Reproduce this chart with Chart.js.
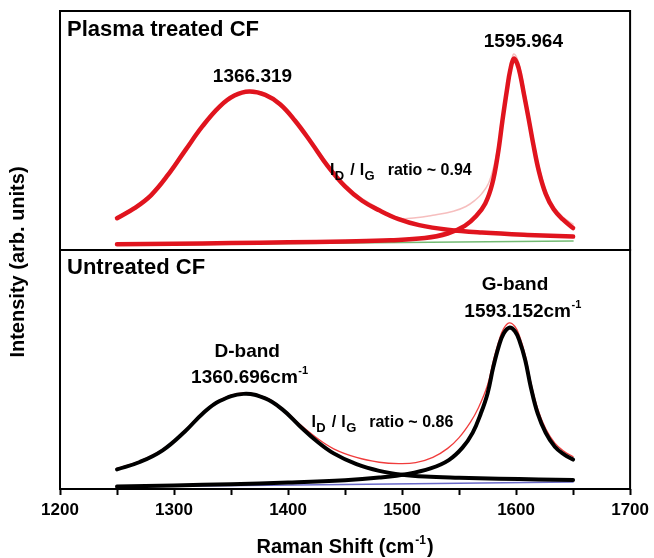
<!DOCTYPE html>
<html>
<head>
<meta charset="utf-8">
<script src="https://cdn.jsdelivr.net/npm/chart.js@4.4.1/dist/chart.umd.min.js"></script>
<style>
  html, body { margin: 0; padding: 0; background: #fff; }
  #wrap { width: 654px; height: 558px; }
</style>
</head>
<body>
<div id="wrap"><canvas id="raman" width="654" height="558"></canvas></div>
<script>
// Raman shift (cm-1) and intensity (arb. units, 0-100 in each panel)

// Plasma treated CF - D band component
const plasmaDX = [1250, 1265, 1280, 1295, 1310, 1325, 1340, 1353, 1366, 1380, 1393, 1406, 1420, 1435, 1450, 1465, 1480, 1497, 1515, 1540, 1570, 1610, 1650];
const plasmaDY = [13.3, 17.4, 23.0, 31.6, 41.8, 51.8, 60.0, 64.6, 66.3, 64.9, 61.0, 54.2, 45.2, 35.0, 26.6, 20.6, 16.6, 12.9, 10.4, 8.5, 7.3, 6.3, 5.6];
// Plasma treated CF - G band component
const plasmaGX = [1250, 1300, 1350, 1400, 1450, 1490, 1520, 1540, 1555, 1565, 1573, 1579, 1584, 1588, 1592, 1595, 1598, 1601, 1604, 1607, 1611, 1615, 1620, 1626, 1633, 1641, 1650];
const plasmaGY = [2.4, 2.6, 2.9, 3.2, 3.6, 4.1, 5.0, 6.9, 10.1, 14.2, 19.5, 27.5, 40, 54, 67, 75.5, 80, 78, 72.5, 65, 55, 44.5, 33, 23.5, 17, 12.8, 9.2];
// Plasma treated CF - cumulative fit (thin)
const plasmaSumX = [1250, 1280, 1310, 1340, 1366, 1393, 1420, 1450, 1476, 1497, 1512, 1527, 1545, 1556, 1564, 1570, 1576, 1581, 1585, 1589, 1593, 1596, 1598, 1601, 1604, 1607, 1611, 1615, 1620, 1626, 1633, 1641, 1650];
const plasmaSumY = [13.7, 23.4, 42.2, 60.4, 66.7, 61.4, 45.6, 27.1, 18.3, 13.4, 13.5, 14.5, 16.2, 18.2, 20.8, 23.6, 28, 36, 45.5, 58, 71, 79, 82, 80, 75, 67.5, 57, 46.5, 35, 25, 18.2, 13.8, 10.8];
// Plasma treated CF - baseline
const plasmaBaseX = [1250, 1650];
const plasmaBaseY = [2.0, 3.8];

// Untreated CF - D band component
const untreatedDX = [1250, 1270, 1290, 1310, 1325, 1340, 1361, 1380, 1395, 1410, 1425, 1440, 1460, 1480, 1500, 1520, 1550, 1585, 1620, 1650];
const untreatedDY = [8.2, 11.3, 16.2, 24.3, 31.5, 36.8, 39.8, 37.9, 33.3, 26.5, 20.1, 14.9, 10.4, 7.6, 6.0, 5.2, 4.7, 4.3, 4.0, 3.8];
// Untreated CF - G band component
const untreatedGX = [1250, 1300, 1350, 1400, 1450, 1480, 1505, 1525, 1541, 1553, 1562, 1569, 1575, 1580, 1585, 1589, 1594, 1599, 1603, 1608, 1613, 1619, 1626, 1634, 1642, 1650];
const untreatedGY = [1.0, 1.5, 2.0, 2.7, 3.7, 4.8, 6.3, 8.6, 12.1, 17.3, 23.6, 31.5, 40, 51, 60, 65, 67.5, 66, 62, 54, 42.5, 31.5, 23.5, 17.7, 14.5, 12.3];
// Untreated CF - cumulative fit (thin)
const untreatedSumX = [1250, 1270, 1290, 1310, 1325, 1340, 1361, 1380, 1395, 1410, 1425, 1440, 1460, 1480, 1497, 1512, 1527, 1540, 1550, 1560, 1567, 1575, 1580, 1585, 1589, 1594, 1599, 1603, 1608, 1613, 1619, 1626, 1634, 1642, 1650];
const untreatedSumY = [8.6, 11.7, 16.6, 24.7, 31.9, 37.2, 40.2, 38.3, 33.8, 27.2, 21.4, 16.8, 13.2, 11.2, 10.6, 11.0, 13.2, 17, 21.5, 28, 34, 43.5, 53.5, 62, 67, 69.5, 68, 64, 56, 44.5, 33.5, 25.2, 19.2, 15.8, 13.5];
// Untreated CF - baseline
const untreatedBaseX = [1250, 1650];
const untreatedBaseY = [0.9, 2.9];

// x axis
const xMin = 1200;
const xMax = 1700;
const xTickLabels = ['1200', '1300', '1400', '1500', '1600', '1700'];

const FONT = "'Liberation Sans', Arial, Helvetica, sans-serif";
Chart.defaults.font.family = FONT;
Chart.defaults.color = '#000';

function pts(xs, ys) {
  return xs.map((x, i) => ({ x: x, y: ys[i] }));
}

function curve(xs, ys, axis, color, width) {
  return {
    data: pts(xs, ys),
    yAxisID: axis,
    borderColor: color,
    borderWidth: width,
    pointRadius: 0,
    fill: false,
    tension: 0.4,
    borderCapStyle: 'round',
    borderJoinStyle: 'round'
  };
}

function ratioParts(val) {
  return [['I', 16, 0], ['D', 13, 5, 0.5], ['/', 16, 0, 6], ['I', 16, 0, 5], ['G', 13, 5, 0.5], ['ratio ~ ' + val, 16, 0, 13]];
}

// text placed on the panels: x in cm-1, y in panel units (baseline)
const notes = [
  { axis: 'yTop', x: 1368.8, y: 70.4, align: 'center', parts: [['1366.319', 19, 0]] },
  { axis: 'yTop', x: 1606.4, y: 85.1, align: 'center', parts: [['1595.964', 19, 0]] },
  { axis: 'yTop', x: 1436.7, y: 31.4, align: 'left', parts: ratioParts('0.94') },
  { axis: 'yBot', x: 1599.1, y: 83.3, align: 'center', parts: [['G-band', 19, 0]] },
  { axis: 'yBot', x: 1554.6, y: 72.1, align: 'left', parts: [['1593.152cm', 19, 0], ['-1', 11, -9, 0.5]] },
  { axis: 'yBot', x: 1364.2, y: 55.4, align: 'center', parts: [['D-band', 19, 0]] },
  { axis: 'yBot', x: 1315.0, y: 44.2, align: 'left', parts: [['1360.696cm', 19, 0], ['-1', 11, -9, 0.5]] },
  { axis: 'yBot', x: 1420.5, y: 26.1, align: 'left', parts: ratioParts('0.86') }
];

function drawParts(ctx, parts, x, y, align) {
  let total = 0;
  const widths = parts.map(p => {
    ctx.font = 'bold ' + p[1] + 'px ' + FONT;
    const w = ctx.measureText(p[0]).width;
    total += w + (p[3] || 0);
    return w;
  });
  let cx = align === 'center' ? x - total / 2 : x;
  parts.forEach((p, i) => {
    cx += p[3] || 0;
    ctx.font = 'bold ' + p[1] + 'px ' + FONT;
    ctx.fillText(p[0], cx, y + p[2]);
    cx += widths[i];
  });
}

const panelPlugin = {
  id: 'panels',
  afterDatasetsDraw(chart) {
    const ctx = chart.ctx;
    const area = chart.chartArea;
    const top = chart.scales.yTop;
    const bot = chart.scales.yBot;
    const x = chart.scales.x;
    ctx.save();
    // panel frames
    ctx.strokeStyle = '#000';
    ctx.lineWidth = 2;
    ctx.strokeRect(area.left, top.top, area.right - area.left, top.bottom - top.top);
    ctx.strokeRect(area.left, bot.top, area.right - area.left, bot.bottom - bot.top);

    ctx.fillStyle = '#000';
    ctx.textAlign = 'left';
    ctx.textBaseline = 'alphabetic';
    ctx.font = 'bold 22px ' + FONT;
    ctx.fillText('Plasma treated CF', area.left + 7, top.top + 25);
    ctx.fillText('Untreated CF', area.left + 7, bot.top + 24);

    notes.forEach(n => {
      const s = chart.scales[n.axis];
      drawParts(ctx, n.parts, x.getPixelForValue(n.x), s.getPixelForValue(n.y), n.align);
    });

    // axis titles
    drawParts(ctx, [['Raman Shift (cm', 20, 0], ['-1', 12, -9, 1], [')', 20, 0, 1]],
      (area.left + area.right) / 2, 552.5, 'center');
    ctx.save();
    ctx.translate(24, (area.top + area.bottom) / 2 + 12);
    ctx.rotate(-Math.PI / 2);
    drawParts(ctx, [['Intensity (arb. units)', 20, 0]], 0, 0, 'center');
    ctx.restore();
    ctx.restore();
  }
};

new Chart(document.getElementById('raman'), {
  type: 'line',
  data: {
    datasets: [
      curve(plasmaDX, plasmaDY, 'yTop', '#e0141e', 4.5),
      curve(plasmaGX, plasmaGY, 'yTop', '#e0141e', 4.5),
      curve(plasmaSumX, plasmaSumY, 'yTop', 'rgba(236,110,110,0.45)', 1.5),
      curve(plasmaBaseX, plasmaBaseY, 'yTop', 'rgba(80,170,80,0.8)', 1.5),
      curve(untreatedDX, untreatedDY, 'yBot', '#000', 4),
      curve(untreatedGX, untreatedGY, 'yBot', '#000', 4),
      curve(untreatedSumX, untreatedSumY, 'yBot', '#f03c3c', 1.3),
      curve(untreatedBaseX, untreatedBaseY, 'yBot', 'rgba(80,80,190,0.85)', 1.5)
    ]
  },
  options: {
    responsive: false,
    animation: false,
    devicePixelRatio: 1,
    layout: { padding: { left: 60, right: 21, top: 11, bottom: 32.6 } },
    plugins: {
      legend: { display: false },
      tooltip: { enabled: false }
    },
    scales: {
      x: {
        type: 'linear',
        min: xMin,
        max: xMax,
        border: { display: false },
        grid: {
          display: true,
          drawOnChartArea: false,
          drawTicks: true,
          tickLength: 6,
          tickColor: '#000',
          tickWidth: 2
        },
        ticks: {
          stepSize: 50,
          autoSkip: false,
          maxRotation: 0,
          padding: 5,
          color: '#000',
          font: { size: 17, weight: 'bold' },
          callback: v => xTickLabels.includes(String(v)) ? String(v) : ''
        }
      },
      yBot: { type: 'linear', display: false, position: 'left', stack: 'panels', stackWeight: 1, min: 0, max: 100 },
      yTop: { type: 'linear', display: false, position: 'left', stack: 'panels', stackWeight: 1, min: 0, max: 100 }
    }
  },
  plugins: [panelPlugin]
});
</script>
</body>
</html>
